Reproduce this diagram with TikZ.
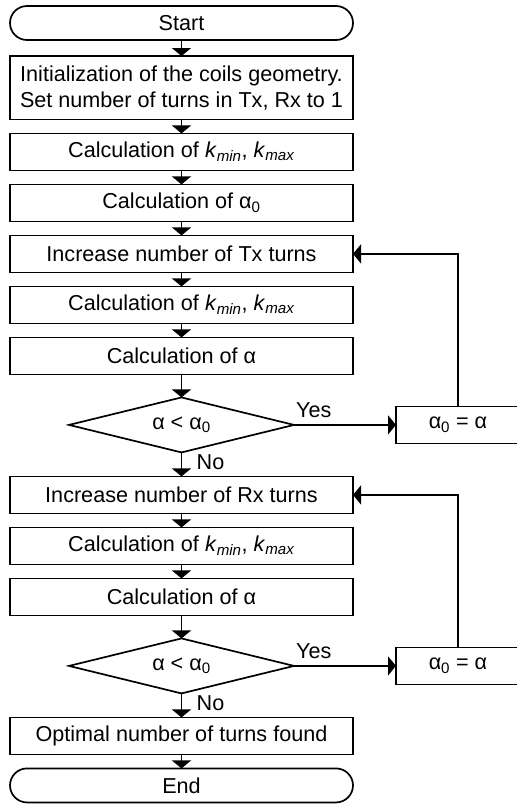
\documentclass[tikz,border=0pt]{standalone}
\usepackage{fontspec}
\setmainfont{Liberation Sans}
\usetikzlibrary{shapes.geometric,arrows.meta,positioning}

\begin{document}
\begin{tikzpicture}[x=1pt, y=1pt, node distance=14pt,
	every node/.style={font=\fontsize{21.6}{26}\selectfont},
	box/.style={draw, line width=1.7pt, minimum width=343pt, minimum height=37pt, inner sep=0pt, outer sep=0pt, align=center},
	term/.style={box, rounded corners=17pt, minimum height=34pt},
	decision/.style={draw, diamond, line width=1.7pt, aspect=4.1, minimum width=225pt, minimum height=55pt, inner sep=0pt, outer sep=0pt},
	assign/.style={box, minimum width=124pt},
	lbl/.style={inner sep=2pt},
	flow/.style={line width=1.7pt, -{Triangle[width=19pt,length=8pt]}}]
  \clip (0,0) rectangle (517,-804);
  % main column
  \node[term] (start) at (181.5,-23) {Start};
  \node[box, inner ysep=9.5pt, below=16pt of start] (init) {Initialization of the coils geometry.\\Set number of turns in Tx, Rx to 1};
  \node[box, below=of init] (km1) {Calculation of \textit{k}\textsubscript{\textit{min}}, \textit{k}\textsubscript{\textit{max}}};
  \node[box, below=of km1] (a0) {Calculation of α\textsubscript{0}};
  \node[box, below=of a0] (tx) {Increase number of Tx turns};
  \node[box, below=of tx] (km2) {Calculation of \textit{k}\textsubscript{\textit{min}}, \textit{k}\textsubscript{\textit{max}}};
  \node[box, below=of km2] (al1) {Calculation of α};
  \node[decision, below=23pt of al1] (d1) {α < α\textsubscript{0}};
  \node[box, below=24pt of d1] (rx) {Increase number of Rx turns};
  \node[box, below=of rx] (km3) {Calculation of \textit{k}\textsubscript{\textit{min}}, \textit{k}\textsubscript{\textit{max}}};
  \node[box, below=of km3] (al2) {Calculation of α};
  \node[decision, below=23pt of al2] (d2) {α < α\textsubscript{0}};
  \node[box, below=24pt of d2] (opt) {Optimal number of turns found};
  \node[term, below=of opt] (end) {End};
  % update boxes
  \node[assign, right=102pt of d1] (up1) {α\textsubscript{0} = α};
  \node[assign, right=102pt of d2] (up2) {α\textsubscript{0} = α};
  % labels
  \node[lbl, anchor=south west] (yes1) at ([yshift=5pt]d1.east) {Yes};
  \node[lbl, anchor=south west] (yes2) at ([yshift=5pt]d2.east) {Yes};
  \node[lbl, anchor=north west] (no1) at ([xshift=13pt]d1.south) {No};
  \node[lbl, anchor=north west] (no2) at ([xshift=13pt]d2.south) {No};
  % connectors
  \foreach \a/\b in {start/init, init/km1, km1/a0, a0/tx, tx/km2, km2/al1, al1/d1, d1/rx,
                     rx/km3, km3/al2, al2/d2, d2/opt, opt/end}
    \draw[flow] (\a) -- (\b);
  \draw[flow] (d1) -- (up1);
  \draw[flow] (d2) -- (up2);
  \draw[flow] (up1) |- (tx);
  \draw[flow] (up2) |- (rx);
\end{tikzpicture}
\end{document}
